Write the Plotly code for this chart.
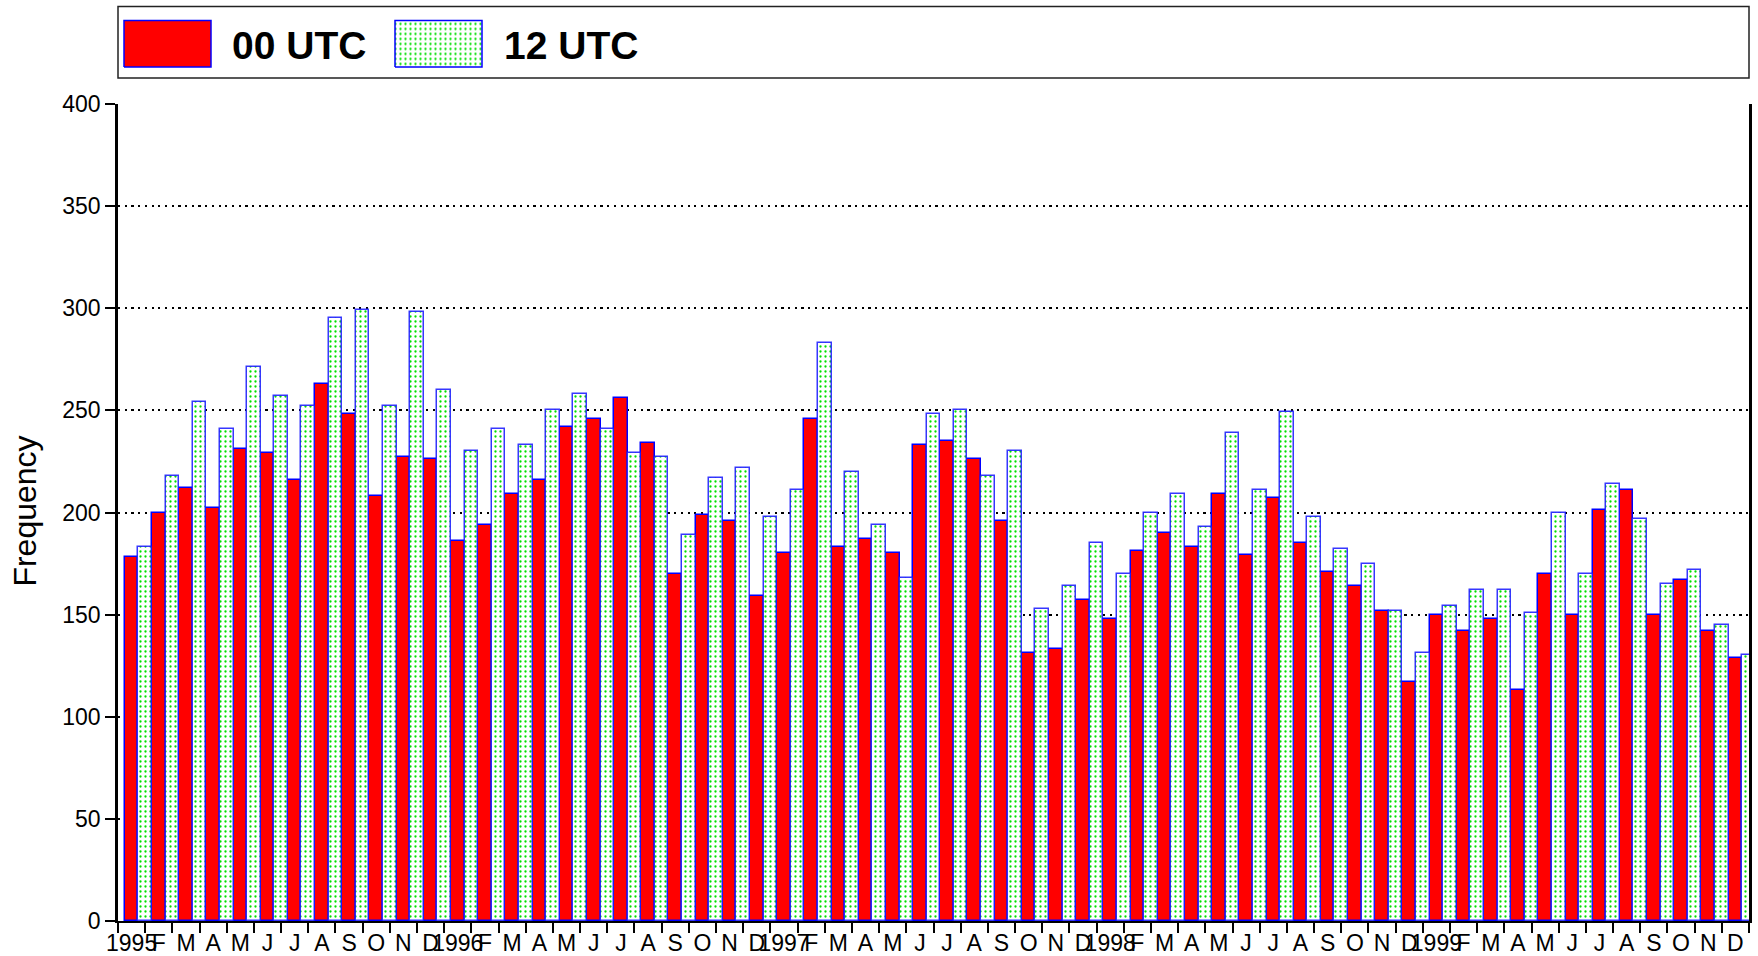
import plotly.graph_objects as go

# ---------------- data ----------------
years = [1995, 1996, 1997, 1998, 1999]
month_letters = ["J", "F", "M", "A", "M", "J", "J", "A", "S", "O", "N", "D"]

utc00 = [178, 200, 212, 202, 231, 229, 216, 263, 248, 208, 227, 226,
         186, 194, 209, 216, 242, 246, 256, 234, 170, 199, 196, 159,
         180, 246, 183, 187, 180, 233, 235, 226, 196, 131, 133, 157,
         148, 181, 190, 183, 209, 179, 207, 185, 171, 164, 152, 117,
         150, 142, 148, 113, 170, 150, 201, 211, 150, 167, 142, 129]

utc12 = [183, 218, 254, 241, 271, 257, 252, 295, 299, 252, 298, 260,
         230, 241, 233, 250, 258, 241, 229, 227, 189, 217, 222, 198,
         211, 283, 220, 194, 168, 248, 250, 218, 230, 153, 164, 185,
         170, 200, 209, 193, 239, 211, 249, 198, 182, 175, 152, 131,
         154, 162, 162, 151, 200, 170, 214, 197, 165, 172, 145, 130]

series_names = ["00 UTC", "12 UTC"]
y_ticks = [0, 50, 100, 150, 200, 250, 300, 350, 400]

tick_labels = []
for yr in years:
    tick_labels += [str(yr)] + month_letters[1:]
month_idx = list(range(len(utc00)))

# ---------------- styles ----------------
FONT = "Liberation Sans, Arial, sans-serif"
RED = "#FF0000"
BLUE = "#0000FF"
GREEN_DOT = "#00E000"
green_pattern = dict(shape=".", fgcolor=GREEN_DOT, bgcolor="white", size=5, solidity=0.17)

fig = go.Figure()

fig.add_trace(go.Bar(
    x=month_idx, y=utc00, name=series_names[0], showlegend=False,
    marker=dict(color=RED, line=dict(color=BLUE, width=1.5)),
))
fig.add_trace(go.Bar(
    x=month_idx, y=utc12, name=series_names[1], showlegend=False,
    marker=dict(color="white", line=dict(color="rgba(20,20,255,0.85)", width=1.5),
                pattern=green_pattern),
))

# ---------------- custom legend (auxiliary axes over legend box) ----------------
# legend axes use pixel-like units: x 0..1631 (plot width), y 0..72 (box height)
swatches = [
    dict(x0=6, x1=93, fill=RED, pattern=None),
    dict(x0=277, x1=364, fill="white", pattern=green_pattern),
]
text_x = [112, 384]
for sw, name, tx in zip(swatches, series_names, text_x):
    kw = dict(
        x=[sw["x0"], sw["x1"], sw["x1"], sw["x0"], sw["x0"]],
        y=[11, 11, 58, 58, 11],
        mode="lines", fill="toself", fillcolor=sw["fill"],
        line=dict(color=BLUE, width=1.5),
        xaxis="x2", yaxis="y2", showlegend=False, hoverinfo="skip",
    )
    if sw["pattern"] is not None:
        kw["fillpattern"] = sw["pattern"]
    fig.add_trace(go.Scatter(**kw))
    fig.add_annotation(
        x=tx, y=33, xref="x2", yref="y2", text="<b>%s</b>" % name,
        showarrow=False, xanchor="left", yanchor="middle",
        font=dict(family=FONT, size=39, color="black"),
    )

# legend border box
fig.add_shape(type="rect", xref="paper", yref="paper",
              x0=0, x1=1, y0=0.9203, y1=0.9984,
              line=dict(color="#222222", width=1.5), fillcolor="rgba(0,0,0,0)")

# y axis title
fig.add_annotation(
    x=-0.0576, y=0.447, xref="paper", yref="paper", text="Frequency",
    textangle=-90, showarrow=False, xanchor="center", yanchor="middle",
    font=dict(family=FONT, size=32, color="black"),
)

fig.update_layout(
    template="none",
    width=1758, height=956, autosize=False,
    margin=dict(l=118, r=9, t=5, b=35, pad=0),
    paper_bgcolor="white", plot_bgcolor="white",
    showlegend=False,
    barmode="group", bargap=0, bargroupgap=0,
    font=dict(family=FONT, color="black"),
    xaxis=dict(
        domain=[0, 1], range=[-0.75, len(utc00) - 0.75], automargin=False,
        tickmode="array",
        tickvals=[i - 0.25 for i in month_idx],
        ticktext=tick_labels,
        ticks="", tickangle=0,
        tickfont=dict(family=FONT, size=23, color="black"),
        showline=True, linecolor="black", linewidth=2,
        showgrid=False, zeroline=False,
        minor=dict(tickmode="array",
                   tickvals=[k - 0.75 for k in range(len(utc00) + 1)],
                   ticks="outside", ticklen=10, tickwidth=1.5, tickcolor="black",
                   showgrid=False),
    ),
    yaxis=dict(
        domain=[0, 0.89192], range=[0, 400], automargin=False,
        tickmode="array", tickvals=y_ticks,
        ticks="outside", ticklen=10, tickwidth=1.5, tickcolor="black",
        tickfont=dict(family=FONT, size=23, color="black"),
        showline=True, linecolor="black", linewidth=2.5, mirror=True,
        showgrid=True, gridcolor="black", gridwidth=2.2, griddash="2.2px,4.5px",
        zeroline=False,
    ),
    xaxis2=dict(domain=[0, 1], range=[0, 1631], anchor="y2", automargin=False,
                visible=False, fixedrange=True),
    yaxis2=dict(domain=[0.9203, 0.9984], range=[0, 72], anchor="x2", automargin=False,
                visible=False, fixedrange=True),
)

# remove the default 8px page margin so the figure sits at the window's top-left corner
fig.write_html("out.html", config={"displayModeBar": False},
               post_script="document.body.style.margin='0';")
